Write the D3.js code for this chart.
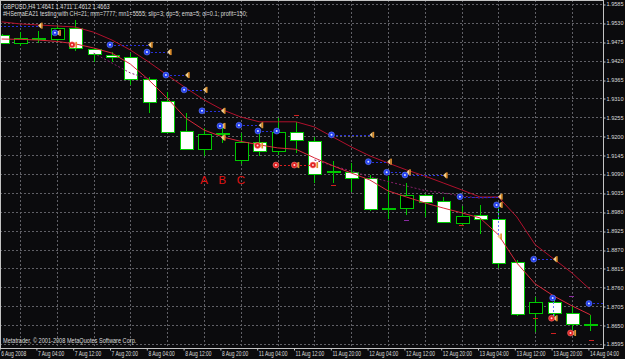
<!DOCTYPE html>
<html>
<head>
<meta charset="utf-8">
<script src="https://cdn.jsdelivr.net/npm/d3@7/dist/d3.min.js"></script>
<style>
  html, body { margin: 0; padding: 0; background: #0b0b0d; }
  svg { display: block; }
</style>
</head>
<body>
<div id="chart"></div>
<script>
// GBPUSD H4 bars, 6 Aug 2008 20:00 .. 14 Aug 2008 04:00
const barOpen  = [1.9495,1.9469,1.9486,1.9483,1.9514,1.9453,1.9437,1.9430,1.9366,1.9304,1.9216,1.9162,1.9208,1.9131,1.9183,1.9157,1.9212,1.9187,1.9095,1.9095,1.9079,1.8991,1.8990,1.9029,1.9012,1.8949,1.8971,1.8959,1.8833,1.8685,1.8716,1.8685,1.8654];
const barHigh  = [1.9498,1.9503,1.9506,1.9524,1.9538,1.9457,1.9445,1.9442,1.9373,1.9329,1.9268,1.9223,1.9233,1.9209,1.9210,1.9252,1.9242,1.9199,1.9128,1.9121,1.9087,1.9084,1.9063,1.9032,1.9023,1.8997,1.9000,1.9000,1.8840,1.8732,1.8732,1.8706,1.8679];
const barLow   = [1.9469,1.9463,1.9471,1.9475,1.9448,1.9417,1.9416,1.9349,1.9269,1.9210,1.9160,1.9141,1.9180,1.9118,1.9141,1.9146,1.9151,1.9063,1.9064,1.9039,1.8983,1.8959,1.8971,1.8966,1.8947,1.8939,1.8916,1.8817,1.8677,1.8631,1.8677,1.8636,1.8633];
const barClose = [1.9471,1.9485,1.9485,1.9514,1.9456,1.9437,1.9432,1.9367,1.9300,1.9213,1.9163,1.9207,1.9207,1.9183,1.9158,1.9212,1.9189,1.9092,1.9099,1.9078,1.8990,1.8988,1.9029,1.9010,1.8951,1.8969,1.8959,1.8830,1.8682,1.8716,1.8685,1.8653,1.8652];

// indicator lines
const upperLine = [1.9533,1.9527,1.9524,1.9521,1.9518,1.9503,1.9480,1.9451,1.9416,1.9378,1.9341,1.9306,1.9277,1.9256,1.9242,1.9242,1.9242,1.9227,1.9198,1.9169,1.9143,1.9122,1.9102,1.9084,1.9064,1.9044,1.9023,1.9023,1.8965,1.8884,1.8843,1.8802,1.8753];
const emaLine   = [1.9483,1.9482,1.9480,1.9476,1.9469,1.9457,1.9442,1.9410,1.9364,1.9311,1.9253,1.9218,1.9198,1.9185,1.9175,1.9166,1.9162,1.9137,1.9114,1.9093,1.9073,1.9041,1.9023,1.9006,1.8991,1.8977,1.8962,1.8913,1.8831,1.8770,1.8735,1.8706,1.8680];
const dotLine   = [null,null,null,null,null,1.9442,1.9413,1.9384,1.9367,null,null,null,null,null,null,null,null,1.9131,1.9114,1.9099,1.9082,1.9068,1.9055,1.9042,1.9035,1.9026,1.9020,1.9023,null,null,null,null,null];

// trade arrows: [bar index, price]
const openMarks = [[2.9,1.9501],[5.89,1.9466],[7.9,1.9445],[8.93,1.9378],[9.92,1.9335],[10.89,1.9274],[11.87,1.9230],[12.9,1.9232],[13.93,1.9215],[14.95,1.9215],[17.93,1.9204],[19.93,1.9126],[20.93,1.9095],[21.92,1.9087],[24.91,1.9024],[26.9,1.9000],[28.92,1.8842],[29.95,1.8729],[31.92,1.8713]];
const sellMarks = [[3.83,1.9466],[13.91,1.9173],[14.91,1.9116],[15.91,1.9116],[16.92,1.9116],[29.89,1.8670],[30.92,1.8627]];
const closeMarks = [[2.09,1.9522],[3.08,1.9501],[3.96,1.9466],[8.07,1.9466],[9.1,1.9445],[10.08,1.9378],[11.05,1.9335],[12.03,1.9274],[12.03,1.9230],[12.03,1.9196],[14.08,1.9232],[14.07,1.9173],[16.04,1.9116],[17.06,1.9116],[20.11,1.9204],[21.07,1.9126],[22.1,1.9095],[24.1,1.9086],[27.09,1.9024],[27.09,1.9000],[27.05,1.8908],[30.08,1.8842],[30.08,1.8670],[31.08,1.8627]];
const signalMarks = [[16.04,1.9262],[18.03,1.9058],[25.01,1.8942],[29.03,1.8670],[29.98,1.8627],[32.07,1.8607]];
const violetMarks = [[22.0,1.8956],[30.98,1.8735]];

// dashed trade lines: [from index, to index, price]
const buyLinks = [[-0.5,2.09,1.9522],[5.89,8.07,1.9466],[7.9,9.1,1.9445],[8.93,10.08,1.9378],[9.92,11.05,1.9335],[10.89,12.03,1.9274],[12.9,14.08,1.9232],[13.93,14.95,1.9215],[17.93,20.11,1.9204],[19.93,21.07,1.9126],[20.93,22.1,1.9095],[21.92,24.1,1.9087],[24.91,27.09,1.9024],[28.92,30.08,1.8842],[31.92,33.5,1.8713]];
const sellLinks = [[14.91,17.06,1.9116]];
// vertical trade lines: [index, price from, price to]
const dropLinks = [[27.0,1.9000,1.8908],[29.95,1.8729,1.8670]];

const priceTicks = [1.9585,1.9530,1.9475,1.9420,1.9365,1.9310,1.9255,1.9200,1.9145,1.9090,1.9035,1.8980,1.8925,1.8870,1.8815,1.8760,1.8705,1.8650,1.8595];
const timeIdx = [0,2,4,6,8,10,12,14,16,18,20,22,24,26,28,30,32];
const timeLabels = ["6 Aug 2008","7 Aug 04:00","7 Aug 12:00","7 Aug 20:00","8 Aug 04:00","8 Aug 12:00","8 Aug 20:00","11 Aug 04:00","11 Aug 12:00","11 Aug 20:00","12 Aug 04:00","12 Aug 12:00","12 Aug 20:00","13 Aug 04:00","13 Aug 12:00","13 Aug 20:00","14 Aug 04:00"];
const labelIdx = [11,12,13];
const labelText = ["A","B","C"];

const width = 625, height = 359;
const plotW = 603, plotH = 348;
const font = "'Liberation Sans', Arial, sans-serif";

// squeeze text horizontally, the terminal font is narrower
function narrow(sel, k) {
  sel.each(function () {
    const w = this.getComputedTextLength();
    d3.select(this).attr("textLength", w * k).attr("lengthAdjust", "spacingAndGlyphs");
  });
}

const svg = d3.select("#chart").append("svg")
  .attr("width", width).attr("height", height)
  .style("background", "#0b0b0d");

const x = d3.scaleLinear().domain([0, 32]).range([1.6, 590.4]);
const y = d3.scaleLinear().domain([1.9585, 1.8595]).range([4, 344]);
const px = v => Math.round(x(v)) + 0.5;
const py = v => Math.round(y(v)) + 0.5;

svg.append("clipPath").attr("id", "plot")
  .append("rect").attr("x", 0).attr("y", 0).attr("width", plotW).attr("height", plotH);

const plot = svg.append("g").attr("clip-path", "url(#plot)");

// grid
const grid = plot.append("g").attr("stroke", "#606066").attr("stroke-dasharray", "2,2")
  .attr("shape-rendering", "crispEdges");
grid.selectAll(".h").data(priceTicks).enter().append("line")
  .attr("x1", 0).attr("x2", plotW).attr("y1", d => py(d)).attr("y2", d => py(d));
grid.selectAll(".v").data(d3.range(1, 33, 2)).enter().append("line")
  .attr("y1", 0).attr("y2", plotH).attr("x1", d => px(d)).attr("x2", d => px(d));

// candles
const bars = d3.range(barOpen.length);
const cg = plot.append("g").attr("shape-rendering", "crispEdges");
cg.selectAll(".wick").data(bars).enter().append("line")
  .attr("x1", i => px(i)).attr("x2", i => px(i))
  .attr("y1", i => y(barHigh[i])).attr("y2", i => y(barLow[i]))
  .attr("stroke", "#00c800");
cg.selectAll(".body").data(bars).enter().append("rect")
  .attr("x", i => px(i) - 6.5)
  .attr("width", 13)
  .attr("y", i => Math.round(y(Math.max(barOpen[i], barClose[i]))) + 0.5)
  .attr("height", i => Math.max(1, Math.round(Math.abs(y(barOpen[i]) - y(barClose[i])))))
  .attr("fill", i => barClose[i] < barOpen[i] ? "#ffffff" : "#000000")
  .attr("stroke", "#00c800");

// indicator lines
const line = d3.line().defined(d => d != null).x((d, i) => x(i)).y(d => y(d));
plot.append("path").datum(upperLine).attr("fill", "none").attr("stroke", "#b0102c").attr("stroke-width", 1).attr("d", line);
plot.append("path").datum(dotLine).attr("fill", "none").attr("stroke", "#86206a").attr("stroke-width", 1)
  .attr("stroke-dasharray", "2,2").attr("d", line);
plot.append("path").datum(emaLine).attr("fill", "none").attr("stroke", "#d8283a").attr("stroke-width", 1).attr("d", line);

// trade lines
const tl = plot.append("g").attr("stroke-dasharray", "2,2").attr("shape-rendering", "crispEdges");
tl.selectAll(".b").data(buyLinks).enter().append("line")
  .attr("x1", d => x(d[0])).attr("x2", d => x(d[1])).attr("y1", d => py(d[2])).attr("y2", d => py(d[2]))
  .attr("stroke", "#2830d8");
tl.selectAll(".s").data(sellLinks).enter().append("line")
  .attr("x1", d => x(d[0])).attr("x2", d => x(d[1])).attr("y1", d => py(d[2])).attr("y2", d => py(d[2]))
  .attr("stroke", "#d82020");
tl.selectAll(".d").data(dropLinks).enter().append("line")
  .attr("x1", d => px(d[0])).attr("x2", d => px(d[0])).attr("y1", d => y(d[1])).attr("y2", d => y(d[2]))
  .attr("stroke", "#6a7cff");

// short signal dashes
plot.selectAll(".sig").data(signalMarks).enter().append("line")
  .attr("x1", d => x(d[0]) - 2.5).attr("x2", d => x(d[0]) + 2.5)
  .attr("y1", d => py(d[1])).attr("y2", d => py(d[1]))
  .attr("stroke", "#d02020").attr("shape-rendering", "crispEdges");
plot.selectAll(".vio").data(violetMarks).enter().append("line")
  .attr("x1", d => x(d[0]) - 2.5).attr("x2", d => x(d[0]) + 2.5)
  .attr("y1", d => py(d[1])).attr("y2", d => py(d[1]))
  .attr("stroke", "#8a2aa0").attr("shape-rendering", "crispEdges");

// close flags
const flags = plot.selectAll(".flag").data(closeMarks).enter().append("g")
  .attr("transform", d => `translate(${x(d[0])},${y(d[1])})`);
flags.append("path").attr("d", "M-2,0L1,-2.8L1,2.8Z").attr("fill", "#f2d08e");
flags.append("rect").attr("x", 1).attr("y", -3).attr("width", 1.6).attr("height", 6).attr("fill", "#e0902c");

// open arrows
const opens = plot.selectAll(".open").data(openMarks).enter().append("g")
  .attr("transform", d => `translate(${x(d[0])},${y(d[1])})`);
opens.append("circle").attr("r", 3).attr("fill", "#2440ee").attr("stroke", "#7088ff").attr("stroke-width", 0.5);
opens.append("circle").attr("r", 1).attr("fill", "#dce4ff");

const sells = plot.selectAll(".sell").data(sellMarks).enter().append("g")
  .attr("transform", d => `translate(${x(d[0])},${y(d[1])})`);
sells.append("circle").attr("r", 3).attr("fill", "#e02424").attr("stroke", "#ff8080").attr("stroke-width", 0.5);
sells.append("circle").attr("r", 1).attr("fill", "#ffd8d8");

// A B C
plot.selectAll(".abc").data(labelIdx).enter().append("text")
  .attr("x", d => x(d)).attr("y", 184)
  .attr("text-anchor", "middle")
  .style("font-family", font).style("font-size", "11.5px").style("fill", "#e01414")
  .text((d, i) => labelText[i]);

// texts inside the chart
const info = svg.append("g").style("font-family", font).style("font-size", "7px").style("fill", "#dcdcdc");
info.append("text").attr("x", 3).attr("y", 8.5).text("GBPUSD,H4  1.4641 1.4711 1.4612 1.4663");
info.append("text").attr("x", 3).attr("y", 15.5)
  .text("#HSemaEA21 testing with CH=21; mm=7777; mn1=5555; slip=3; dp=5; ema=5; ol=0.1; profit=150;");
info.append("text").attr("x", 3).attr("y", 342.5).text("Metatrader, \u00a9 2001-2008 MetaQuotes Software Corp.");
narrow(info.selectAll("text"), 0.8);

// frame
svg.append("rect").attr("x", 0.5).attr("y", 0.5).attr("width", plotW).attr("height", plotH)
  .attr("fill", "none").attr("stroke", "#c4c4c4").attr("shape-rendering", "crispEdges");

// price axis
const gy = svg.append("g").attr("transform", `translate(${plotW + 0.5},0)`)
  .call(d3.axisRight(y).tickValues(priceTicks).tickFormat(d3.format(".4f")).tickSize(2).tickPadding(1));
gy.select(".domain").remove();
gy.selectAll("line").attr("stroke", "#c4c4c4").attr("transform", d => `translate(0,${py(d) - y(d)})`);
gy.selectAll("text").style("font-family", font).style("font-size", "6.2px").style("fill", "#dcdcdc");
narrow(gy.selectAll("text"), 0.9);

// time axis
const gx = svg.append("g").attr("transform", `translate(0,${plotH + 0.5})`)
  .call(d3.axisBottom(x).tickValues(timeIdx).tickFormat((d, i) => timeLabels[i]).tickSize(2).tickPadding(0.5));
gx.select(".domain").remove();
gx.selectAll("line").attr("stroke", "#c4c4c4").attr("transform", "translate(-2,0)");
gx.selectAll("text").attr("text-anchor", "start").attr("x", -1.2)
  .attr("transform", "scale(0.76,1)")
  .style("font-family", font).style("font-size", "6.5px").style("fill", "#dcdcdc");
</script>
</body>
</html>
